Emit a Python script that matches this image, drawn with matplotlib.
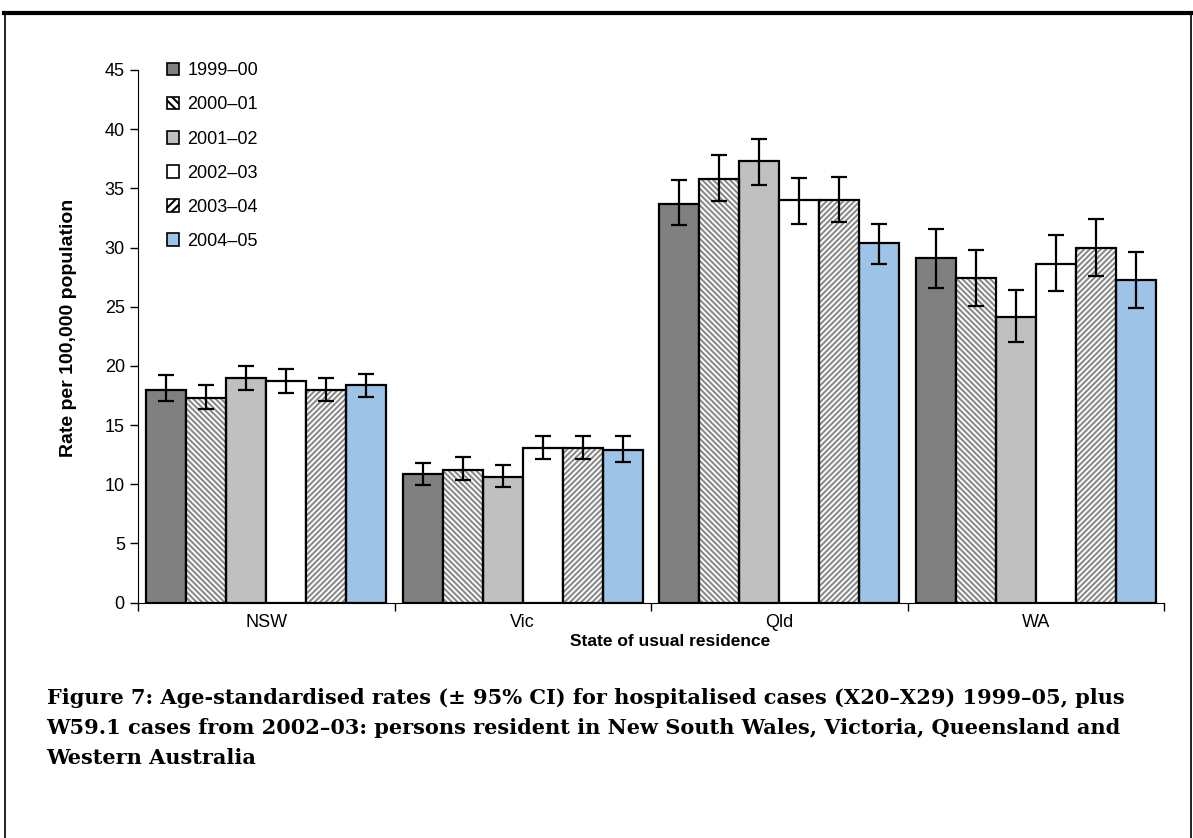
import matplotlib.pyplot as plt
import numpy as np
from matplotlib.lines import Line2D

plt.rcParams['font.family'] = ['Liberation Sans', 'DejaVu Sans']
plt.rcParams['hatch.linewidth'] = 1.5

states = ['NSW', 'Vic', 'Qld', 'WA']
years = ['1999\u201300', '2000\u201301', '2001\u201302', '2002\u201303', '2003\u201304', '2004\u201305']

# age-standardised rate per 100,000, one list per year (NSW, Vic, Qld, WA)
rate_9900 = [18.0, 10.9, 33.7, 29.1]
rate_0001 = [17.3, 11.2, 35.8, 27.4]
rate_0102 = [19.0, 10.6, 37.3, 24.1]
rate_0203 = [18.7, 13.1, 34.0, 28.6]
rate_0304 = [18.0, 13.1, 34.0, 30.0]
rate_0405 = [18.4, 12.9, 30.4, 27.3]

# 95% confidence limits
lo_9900 = [17.0, 9.9, 31.9, 26.6]
hi_9900 = [19.2, 11.8, 35.7, 31.6]
lo_0001 = [16.4, 10.4, 33.9, 25.1]
hi_0001 = [18.4, 12.3, 37.8, 29.8]
lo_0102 = [18.0, 9.8, 35.3, 22.0]
hi_0102 = [20.0, 11.6, 39.2, 26.4]
lo_0203 = [17.7, 12.1, 32.0, 26.3]
hi_0203 = [19.7, 14.1, 35.9, 31.1]
lo_0304 = [17.0, 12.1, 32.2, 27.6]
hi_0304 = [19.0, 14.1, 36.0, 32.4]
lo_0405 = [17.4, 11.9, 28.6, 24.9]
hi_0405 = [19.3, 14.1, 32.0, 29.6]

rates = [rate_9900, rate_0001, rate_0102, rate_0203, rate_0304, rate_0405]
lows = [lo_9900, lo_0001, lo_0102, lo_0203, lo_0304, lo_0405]
highs = [hi_9900, hi_0001, hi_0102, hi_0203, hi_0304, hi_0405]

faces = ['#808080', 'white', '#c0c0c0', 'white', 'white', '#9dc3e6']
hatches = [None, '\\\\\\\\\\\\', None, None, '//////', None]

fig = plt.figure(figsize=(11.93, 8.38), dpi=100)
ax = fig.add_axes([0.1157, 0.2808, 0.86, 0.6357])

x = np.arange(len(states))
width = 0.156
handles = []
for i in range(len(years)):
    pos = x + (i - 2.5) * width
    vals = np.array(rates[i])
    err = [vals - np.array(lows[i]), np.array(highs[i]) - vals]
    if hatches[i]:
        # grey stripes first, then the black outline on top
        ax.bar(pos, vals, width, color=faces[i], hatch=hatches[i],
               edgecolor='#8a8a8a', linewidth=0, zorder=2)
        ax.bar(pos, vals, width, fill=False, edgecolor='black', linewidth=1.6, zorder=2.5)
    else:
        ax.bar(pos, vals, width, color=faces[i], edgecolor='black', linewidth=1.6, zorder=2)
    ax.errorbar(pos, vals, yerr=err, fmt='none', ecolor='black',
                elinewidth=1.6, capsize=5.5, capthick=1.6, zorder=3)
    handles.append(plt.Rectangle((0, 0), 1, 1, facecolor=faces[i],
                                 hatch=hatches[i][:4] if hatches[i] else None,
                                 edgecolor='black', linewidth=1.2))

ax.set_xlim(-0.5, 3.5)
ax.set_ylim(0, 45)
ax.set_yticks(np.arange(0, 46, 5))
ax.set_xticks(x)
ax.set_xticklabels(states)
ax.set_xticks(np.arange(-0.5, 4.0, 1.0), minor=True)
ax.tick_params(axis='x', which='major', length=0, pad=8, labelsize=13)
ax.tick_params(axis='x', which='minor', length=6, width=1, direction='out')
ax.tick_params(axis='y', length=6, width=1, direction='out', labelsize=13)
ax.spines['top'].set_visible(False)
ax.spines['right'].set_visible(False)

ax.set_ylabel('Rate per 100,000 population', fontsize=14, fontweight='bold', va='center')
ax.yaxis.set_label_coords(-0.068, 0.516)
ax.set_xlabel('State of usual residence', fontsize=12.5, fontweight='bold', va='center')
ax.xaxis.set_label_coords(0.519, -0.073)

ax.legend(handles, years, loc='upper left', bbox_to_anchor=(0.012, 1.045), frameon=False,
          fontsize=13, handlelength=0.7, handleheight=0.7, handletextpad=0.45,
          labelspacing=0.95)

caption = ('Figure 7: Age-standardised rates (\u00b1 95% CI) for hospitalised cases (X20\u2013X29) 1999\u201305, plus\n'
           'W59.1 cases from 2002\u201303: persons resident in New South Wales, Victoria, Queensland and\n'
           'Western Australia')
fig.text(0.039, 0.179, caption, ha='left', va='top', fontsize=15, fontweight='bold',
         family='DejaVu Serif', linespacing=1.62)

# page frame
fig.add_artist(Line2D([0.003, 0.998], [0.984, 0.984], color='black', linewidth=3))
fig.add_artist(Line2D([0.004, 0.004], [0.0, 0.984], color='black', linewidth=1.2))
fig.add_artist(Line2D([0.998, 0.998], [0.0, 0.984], color='black', linewidth=1.2))

fig.savefig('out.png', dpi=100)
